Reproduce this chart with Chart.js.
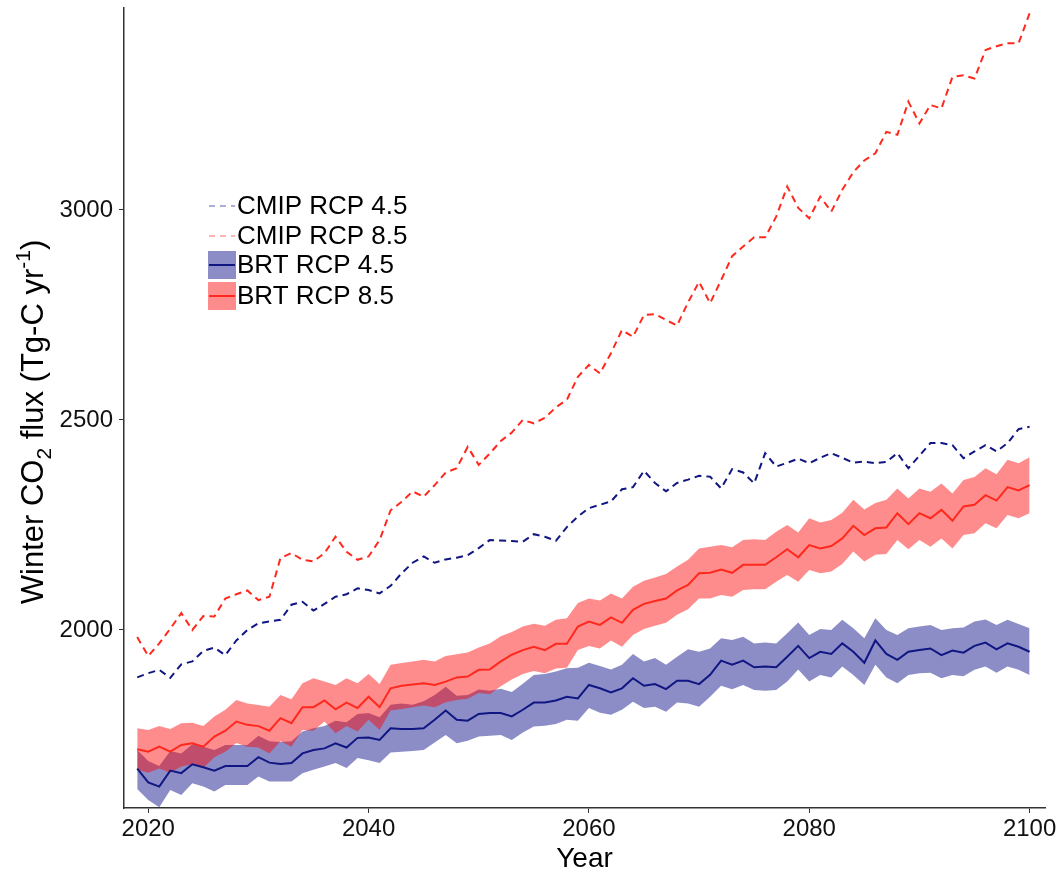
<!DOCTYPE html>
<html>
<head>
<meta charset="utf-8">
<script src="https://cdn.jsdelivr.net/npm/chart.js@4.4.1/dist/chart.umd.min.js"></script>
<style>
  html, body { margin: 0; padding: 0; background: #fff; }
  #wrap { width: 1063px; height: 876px; }
</style>
</head>
<body>
<div id="wrap"><canvas id="fluxChart" width="1063" height="876"></canvas></div>
<script>
// years 2019..2100
const years = [];
for (let y = 2019; y <= 2100; y++) years.push(y);

const xTicks = [2020, 2040, 2060, 2080, 2100];
const yTicks = [2000, 2500, 3000];

// CMIP projections (dashed)
const cmip45 = [
  1887,1897,1905,1886,1918,1925,1950,1958,1940,1975,
  2000,2016,2020,2024,2060,2067,2046,2062,2079,2085,
  2099,2095,2087,2105,2135,2160,2175,2160,2168,2172,
  2178,2195,2214,2213,2212,2210,2228,2222,2212,2245,
  2270,2290,2298,2306,2335,2340,2379,2350,2330,2350,
  2358,2367,2365,2337,2383,2375,2349,2421,2389,2398,
  2408,2397,2410,2421,2410,2398,2401,2397,2400,2421,
  2385,2415,2445,2445,2440,2409,2425,2440,2425,2445,
  2478,2484
];
const cmip85 = [
  1983,1938,1968,2003,2040,2000,2033,2032,2075,2085,
  2094,2071,2079,2171,2183,2167,2163,2183,2222,2186,
  2167,2175,2214,2285,2305,2330,2317,2345,2375,2385,
  2436,2393,2420,2450,2470,2500,2492,2505,2530,2548,
  2603,2631,2611,2659,2714,2698,2750,2752,2738,2725,
  2780,2829,2778,2833,2890,2913,2935,2935,2984,3056,
  3005,2980,3032,2996,3048,3090,3118,3135,3186,3179,
  3258,3206,3250,3242,3317,3321,3313,3381,3390,3397,
  3397,3468
];

// BRT RCP 4.5: mean and band
const brt45 = [
  1670,1637,1627,1665,1659,1680,1673,1665,1676,1676,
  1676,1697,1684,1681,1683,1706,1714,1718,1730,1720,
  1743,1744,1738,1766,1764,1764,1766,1786,1808,1786,
  1784,1800,1802,1802,1794,1810,1827,1827,1832,1841,
  1837,1869,1861,1851,1861,1885,1867,1871,1859,1879,
  1879,1871,1893,1927,1917,1927,1911,1913,1911,1936,
  1962,1933,1948,1943,1968,1948,1922,1975,1943,1929,
  1948,1952,1956,1940,1951,1946,1962,1970,1954,1968,
  1960,1948
];
const brt45Hi = [
  1714,1688,1676,1712,1706,1728,1722,1714,1726,1726,
  1726,1748,1735,1733,1735,1758,1766,1771,1784,1780,
  1800,1802,1792,1822,1825,1822,1830,1845,1865,1843,
  1845,1858,1855,1860,1852,1872,1893,1895,1901,1909,
  1910,1922,1914,1906,1917,1943,1925,1933,1917,1936,
  1954,1948,1956,1980,1976,1984,1968,1970,1968,1992,
  2018,1988,2002,2000,2024,2004,1980,2028,2000,1988,
  2004,2008,2012,2000,2004,2006,2020,2025,2012,2024,
  2014,2004
];
const brt45Lo = [
  1621,1595,1578,1619,1607,1635,1627,1615,1631,1631,
  1631,1651,1639,1639,1639,1659,1667,1675,1683,1671,
  1695,1690,1683,1708,1710,1712,1714,1732,1750,1730,
  1736,1746,1748,1750,1738,1756,1770,1772,1776,1786,
  1784,1814,1803,1798,1810,1829,1814,1817,1805,1827,
  1825,1817,1841,1867,1859,1869,1857,1855,1857,1877,
  1906,1877,1893,1887,1913,1893,1869,1917,1887,1873,
  1893,1897,1898,1885,1893,1890,1905,1913,1898,1913,
  1905,1893
];

// BRT RCP 8.5: mean and band
const brt85 = [
  1716,1710,1722,1710,1726,1730,1722,1746,1760,1782,
  1774,1771,1760,1790,1778,1816,1816,1832,1811,1827,
  1814,1841,1816,1861,1867,1870,1873,1869,1877,1887,
  1889,1905,1906,1925,1941,1952,1960,1952,1967,1967,
  2008,2020,2012,2030,2017,2048,2062,2069,2075,2094,
  2107,2135,2136,2144,2136,2155,2155,2155,2173,2192,
  2173,2202,2194,2200,2218,2248,2226,2242,2244,2278,
  2252,2278,2266,2286,2260,2294,2298,2321,2308,2340,
  2332,2345
];
const brt85Hi = [
  1766,1762,1771,1764,1778,1779,1771,1794,1810,1833,
  1825,1821,1817,1845,1835,1873,1885,1877,1869,1885,
  1873,1895,1871,1917,1921,1925,1929,1925,1938,1942,
  1946,1958,1968,1985,1995,2008,2015,2010,2024,2028,
  2064,2075,2070,2087,2075,2103,2117,2125,2133,2151,
  2167,2194,2198,2202,2197,2214,2216,2214,2234,2250,
  2232,2266,2256,2262,2279,2310,2287,2302,2310,2337,
  2313,2337,2329,2349,2325,2357,2364,2385,2371,2405,
  2397,2411
];
const brt85Lo = [
  1667,1660,1670,1660,1675,1680,1672,1697,1710,1731,
  1722,1720,1706,1735,1722,1762,1760,1782,1754,1771,
  1758,1786,1762,1808,1812,1816,1820,1816,1828,1833,
  1836,1850,1847,1866,1882,1895,1902,1897,1908,1910,
  1952,1962,1956,1975,1960,1988,2002,2010,2017,2036,
  2049,2075,2075,2083,2079,2095,2097,2097,2115,2131,
  2115,2143,2135,2139,2157,2187,2163,2179,2181,2214,
  2192,2214,2198,2218,2194,2226,2230,2254,2242,2274,
  2266,2278
];

const RED = 'rgb(255,40,28)';
const NAVY = 'rgb(16,22,130)';
const RED_BAND = 'rgba(255,0,0,0.45)';
const BLUE_BAND = 'rgba(0,0,128,0.45)';
const FONT = "'Liberation Sans', Arial, sans-serif";

const pts = arr => arr.map((v, i) => ({ x: years[i], y: v }));

const lineDs = (label, arr, color, dash) => ({
  label, data: pts(arr), borderColor: color, borderWidth: 2,
  borderDash: dash || [], pointRadius: 0, fill: false, tension: 0
});
const bandDs = (arr, color, fill) => ({
  data: pts(arr), borderWidth: 0, borderColor: 'transparent',
  backgroundColor: color, pointRadius: 0, fill: fill, tension: 0
});

// legend + y title with sub/superscript
const decorPlugin = {
  id: 'decor',
  afterDraw(chart) {
    const ctx = chart.ctx;
    ctx.save();

    // legend
    const rows = [
      { t: 'CMIP RCP 4.5', y: 206, kind: 'dash', c: NAVY },
      { t: 'CMIP RCP 8.5', y: 236, kind: 'dash', c: RED },
      { t: 'BRT RCP 4.5', y: 265, kind: 'band', c: NAVY, b: BLUE_BAND },
      { t: 'BRT RCP 8.5', y: 296, kind: 'band', c: RED, b: RED_BAND }
    ];
    rows.forEach(r => {
      if (r.kind === 'band') {
        ctx.fillStyle = r.b;
        ctx.fillRect(208, r.y - 14, 28, 28);
        ctx.setLineDash([]);
        ctx.globalAlpha = 1;
      } else {
        ctx.setLineDash([6, 5]);
        ctx.globalAlpha = 0.35;
      }
      ctx.strokeStyle = r.c;
      ctx.lineWidth = 2;
      ctx.beginPath();
      ctx.moveTo(209, r.y);
      ctx.lineTo(235, r.y);
      ctx.stroke();
      ctx.globalAlpha = 1;
      ctx.setLineDash([]);
      ctx.fillStyle = '#000';
      ctx.font = '26px ' + FONT;
      ctx.textBaseline = 'middle';
      ctx.textAlign = 'left';
      ctx.fillText(r.t, 237, r.y + 1);
    });

    // y axis title
    const parts = [
      { s: 'Winter CO', size: 31, dy: 0 },
      { s: '2', size: 21, dy: 8 },
      { s: ' flux (Tg-C yr', size: 31, dy: 0 },
      { s: '-1', size: 21, dy: -13 },
      { s: ')', size: 31, dy: 0 }
    ];
    let total = 0;
    parts.forEach(p => { ctx.font = p.size + 'px ' + FONT; p.w = ctx.measureText(p.s).width; total += p.w; });
    ctx.translate(43, 422);
    ctx.rotate(-Math.PI / 2);
    ctx.textBaseline = 'alphabetic';
    ctx.fillStyle = '#000';
    let x = -total / 2;
    parts.forEach(p => {
      ctx.font = p.size + 'px ' + FONT;
      ctx.fillText(p.s, x, p.dy);
      x += p.w;
    });
    ctx.restore();
  }
};

new Chart(document.getElementById('fluxChart'), {
  type: 'line',
  data: {
    datasets: [
      lineDs('BRT RCP 8.5', brt85, RED),
      lineDs('BRT RCP 4.5', brt45, NAVY),
      lineDs('CMIP RCP 8.5', cmip85, RED, [7, 5]),
      lineDs('CMIP RCP 4.5', cmip45, NAVY, [7, 5]),
      bandDs(brt85Hi, RED_BAND, '+1'),
      bandDs(brt85Lo, 'transparent', false),
      bandDs(brt45Hi, BLUE_BAND, '+1'),
      bandDs(brt45Lo, 'transparent', false)
    ]
  },
  options: {
    responsive: false,
    devicePixelRatio: 1,
    animation: false,
    layout: { padding: { top: 8, right: 18, left: 0, bottom: 0 } },
    plugins: { legend: { display: false }, tooltip: { enabled: false } },
    scales: {
      x: {
        type: 'linear', min: 2017.8, max: 2101.4,
        afterBuildTicks: s => { s.ticks = xTicks.map(v => ({ value: v })); },
        afterFit: s => { s.height = 68; s.paddingLeft = 0; s.paddingRight = 0; },
        grid: { display: true, drawOnChartArea: false, drawTicks: true, tickLength: 5, color: '#333' },
        border: { display: true, color: '#333', width: 1.5 },
        ticks: { color: '#111', font: { size: 24, family: FONT }, padding: 2, maxRotation: 0,
                 callback: v => String(v) },
        title: { display: true, text: 'Year', color: '#000', font: { size: 28, family: FONT }, padding: { top: 0, bottom: 0 } }
      },
      y: {
        type: 'linear', min: 1576, max: 3481,
        afterBuildTicks: s => { s.ticks = yTicks.map(v => ({ value: v })); },
        afterFit: s => { s.width = 124; s.paddingTop = 0; s.paddingBottom = 0; },
        grid: { display: true, drawOnChartArea: false, drawTicks: true, tickLength: 5, color: '#333' },
        border: { display: true, color: '#333', width: 1.5 },
        ticks: { color: '#111', font: { size: 24, family: FONT }, padding: 6,
                 callback: v => String(v) }
      }
    }
  },
  plugins: [decorPlugin]
});
</script>
</body>
</html>
